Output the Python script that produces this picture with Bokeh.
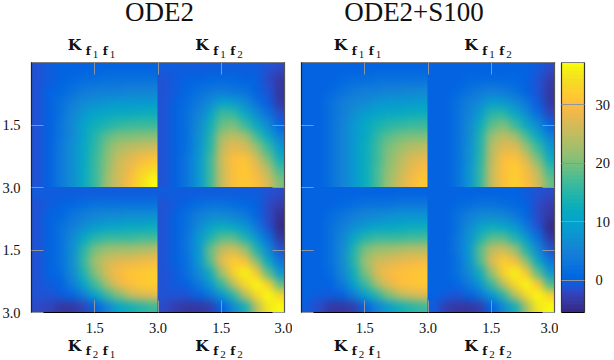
import numpy as np
from bokeh.embed import file_html
from bokeh.io import curdoc
from bokeh.resources import INLINE
from bokeh.layouts import row
from bokeh.models import CustomJS, FixedTicker, Label, LinearAxis, LinearColorMapper, Range1d
from bokeh.plotting import figure

# Values, top row of each panel first, 11 x 11 cells.
ode2_f1f1 = [
 [-1,-.5,0,0,.5,.5,.5,.5,.5,.5,.5],
 [-1,-.5,.5,1,1.5,1.5,2,2,2,2,2],
 [-1,0,1,2.5,3.5,4,4.5,4.5,5,5,5],
 [-1,0,2,4.5,6,7,7.5,8,8,8.5,8.5],
 [-1,0,2.5,5.5,8.5,10,11,11.5,11.5,12,12],
 [-1,0,3,6,10,13,14.5,15.5,16,16.5,16.5],
 [-1,.5,3,6.5,10.5,15,18.5,20,20.5,21,21],
 [-1,.5,3.5,7,11,15.5,20,23.5,25,25.5,26],
 [-1,.5,3.5,7,11,16,21,25.5,27.5,29.5,31],
 [-1,.5,3.5,7,11.5,16.5,21.5,26,29,32,34.5],
 [-1,.5,3.5,7,11.5,16.5,22,26.5,30.5,34,37],
]
ode2_f1f2 = [
 [-.5,-.5,-.5,-.5,-.5,-.5,-.5,-.5,-.5,-1,-2],
 [-1,-.5,0,.5,1,1,1,.5,0,-1.5,-3.5],
 [-1,-.5,1,2,3,3.5,3,2,.5,-1,-4],
 [-1,0,1.5,3.5,6.5,9.5,9,6,2.5,-.5,-3.5],
 [-1,0,2,5,9.5,16,15.5,11,6,2,-2],
 [-1,0,2,6,13,19,20,16,11,6,.5],
 [-1,0,2.5,7,14.5,23,25,23,17,11,4],
 [-1,0,2.5,7.5,15,25,28,27,22,16,8.5],
 [-1,0,3,8,16,26,30,31,27,20.5,13],
 [-1,0,3,8,16,25.5,30.5,31.5,29,24,17],
 [-1,0,3,8,16,25.5,30.5,31.5,30,27,20],
]
ode2_f2f1 = [
 [-.5,-.5,-.5,-.5,-.5,-.5,-.5,-.5,-.5,-.5,-.5],
 [-1,-.5,.5,1,1.5,2,2,2,2,2.5,2.5],
 [-1,0,1,3,4.5,5.5,6,6.5,7,7,7],
 [-1,0,2,4,7,9,10.5,11,11.5,11.5,12],
 [-1,.5,2.5,6,11,15,16,16.5,16.5,17,17],
 [-1,.5,2.5,7,15,20,22,23,23,23.5,24],
 [-1,0,2,7,16,23,26,27.5,28,29,29.5],
 [-1,0,1.5,6,14,21,27,29.5,31,31.5,32],
 [-1,-.5,.5,4,10,17,23,28,30.5,31.5,32],
 [-1,-1,-.5,1,4.5,10,16,20.5,25,27,28],
 [-1.5,-2.5,-3.5,-3.5,-2.5,.5,5,10,13,15,16],
]
ode2_f2f2 = [
 [-.5,-.5,-.5,-.5,-.5,-.5,-.5,-.5,-.5,-1,-1.5],
 [-1,-.5,.5,1.5,2,2,1.5,1,0,-1.5,-3],
 [-1,0,2,4,6,6,5,3.5,1,-2,-4.5],
 [-1,0,2.5,6,10,12,11,8,3.5,-1,-5],
 [-1,0,3,8,14,18,18,14,8,2,-4],
 [-1,0,3,8.5,19,25,27,22,14,6,-1],
 [-1,0,2.5,8,18,28,32,30,21,11,3],
 [-1,-.5,2,6.5,13,23,32,36,31,18,8],
 [-1,-.5,.5,3.5,8.5,16,25,33,37,32,18],
 [-1,-1,-1,0,3,8,15,24,33,38,33],
 [-1.5,-3,-4,-4,-3,0,6,13,24,35,38],
]
s100_f1f1 = [
 [0,0,.5,.5,.5,.5,.5,.5,.5,.5,.5],
 [0,.5,.5,1,1.5,1.5,2,2,2,2,2],
 [0,.5,1,2.5,3.5,4,4.5,5,5,5.5,5.5],
 [0,.5,2,4,5.5,6.5,7.5,8,8.5,8.5,9],
 [0,.5,2,4.5,7,9,10,11,11.5,12,12],
 [0,.5,2,5,8,11,13.5,15,15.5,16,16.5],
 [0,.5,2,5,8,11.5,15.5,18,19.5,20,20.5],
 [0,.5,2,5,8,12,16,20,22.5,24,25],
 [0,.5,2,5,8,12,16.5,21,24.5,27,28],
 [0,.5,2,5,8,12,17,21.5,25,28.5,30.5],
 [0,.5,2,5,8,12,17,22,26,29.5,31.5],
]
s100_f1f2 = [
 [0,0,0,0,0,0,0,0,0,-.5,-1.5],
 [0,.5,.5,1,1,1,1,1,0,-1,-3],
 [0,.5,1,2.5,3.5,4,3.5,2,.5,-1,-4],
 [0,.5,2,4,6.5,9,8.5,6,3,-.5,-4],
 [0,.5,2,5,9,15,15,11,6,1.5,-2.5],
 [0,.5,2.5,6,12,18,20,16,11,6,.5],
 [0,.5,2.5,6.5,14,22,25,23,17,11,4],
 [0,.5,2.5,7,14.5,24,27.5,27.5,22,16,8],
 [0,.5,2.5,7,15,25,30,31,27,20,12],
 [0,.5,2.5,7.5,15.5,25.5,30.5,32,29.5,24,16.5],
 [0,.5,2.5,7.5,15.5,25.5,30.5,32,30.5,26,19],
]
s100_f2f1 = [
 [0,0,0,0,0,0,0,0,0,0,0],
 [0,0,.5,1,1.5,2,2.5,2.5,3,3,3],
 [0,.5,1.5,3,4.5,5.5,6.5,7,7.5,7.5,7.5],
 [0,.5,2,4.5,7,9,10.5,11,11.5,12,12],
 [0,.5,2.5,5.5,11,15,16,16.5,16.5,17,17],
 [0,.5,2.5,6.5,14,20,22,23,23.5,24,24.5],
 [0,.5,2,6.5,15,22.5,26,27,28,29,29.5],
 [0,.5,1.5,5.5,13,20.5,27,29.5,30.5,31,31.5],
 [0,0,.5,3.5,9.5,16.5,23,27.5,30,31,31.5],
 [0,-.5,-.5,.5,4,9.5,15,20,24,26.5,27.5],
 [-.5,-2,-3.5,-4,-3,.5,5,9,13,15,16],
]
s100_f2f2 = [
 [0,0,0,0,0,0,0,0,-.5,-1,-1.5],
 [0,.5,1,1.5,2,2,1.5,1,0,-1.5,-3],
 [0,.5,2,4,6,6.5,5.5,3.5,1,-2,-4],
 [0,.5,2.5,6,10,12,11,8,3.5,-1,-5],
 [0,.5,3,7.5,14,18.5,18,14,8,2,-4],
 [0,.5,3,8,18,25,26.5,22,14,6,-1],
 [0,.5,2.5,7.5,17.5,27.5,32,29.5,21,11,3],
 [0,.5,2,6,13,22.5,32,36,31,18,8],
 [0,0,1,3.5,8.5,16,25,33,37,31,17],
 [0,-.5,-1,0,3,8,15,24,33,38,32],
 [-.5,-3,-4,-4,-3,0,6,13,23,35,38],
]
titles = ["ODE2", "ODE2+S100"]
axis_ticks = [1.5, 3.0, 4.5, 6.0]
axis_labels = ["1.5", "3.0", "1.5", "3.0"]
x_labels = {t: s for t, s in zip(axis_ticks, axis_labels)}
y_labels = {0.0: "3.0", 1.5: "1.5", 3.0: "3.0", 4.5: "1.5"}
cbar_ticks = [0, 10, 20, 30]
cbar_low, cbar_high = -5.5, 37.2

parula = [(.2081,.1663,.5292),(.2116,.1898,.5777),(.2123,.2138,.6270),(.2081,.2386,.6771),
 (.1959,.2645,.7279),(.1707,.2919,.7792),(.1253,.3242,.8303),(.0591,.3598,.8683),
 (.0117,.3875,.8820),(.0060,.4086,.8828),(.0165,.4266,.8786),(.0329,.4430,.8720),
 (.0498,.4586,.8641),(.0629,.4737,.8554),(.0723,.4887,.8467),(.0779,.5040,.8384),
 (.0793,.5200,.8312),(.0749,.5375,.8263),(.0641,.5570,.8240),(.0488,.5772,.8228),
 (.0343,.5966,.8199),(.0265,.6137,.8135),(.0239,.6287,.8038),(.0231,.6418,.7913),
 (.0228,.6535,.7768),(.0267,.6642,.7607),(.0384,.6743,.7436),(.0590,.6838,.7254),
 (.0843,.6928,.7062),(.1133,.7015,.6859),(.1453,.7098,.6646),(.1801,.7177,.6424),
 (.2178,.7250,.6193),(.2586,.7317,.5954),(.3022,.7376,.5712),(.3482,.7424,.5473),
 (.3953,.7459,.5244),(.4420,.7481,.5033),(.4871,.7491,.4840),(.5300,.7491,.4661),
 (.5709,.7485,.4494),(.6099,.7473,.4337),(.6473,.7456,.4188),(.6834,.7435,.4044),
 (.7184,.7411,.3905),(.7525,.7384,.3768),(.7858,.7356,.3633),(.8185,.7327,.3498),
 (.8507,.7299,.3360),(.8824,.7274,.3217),(.9139,.7258,.3063),(.9450,.7261,.2886),
 (.9739,.7314,.2666),(.9938,.7455,.2403),(.9990,.7653,.2164),(.9955,.7861,.1967),
 (.9880,.8066,.1794),(.9789,.8271,.1633),(.9697,.8481,.1475),(.9626,.8705,.1309),
 (.9589,.8949,.1132),(.9598,.9218,.0948),(.9661,.9514,.0755),(.9763,.9831,.0538)]
palette = ["#%02x%02x%02x" % tuple(int(round(c * 255)) for c in rgb) for rgb in parula]
mapper = LinearColorMapper(palette=palette, low=cbar_low, high=cbar_high)

TICK = "#8f959c"
SERIF = "Liberation Serif"
HEAVY = "DejaVu Serif"
FRAME_W, FRAME_H = 253, 250
UX, UY = 6 / FRAME_W, 6 / FRAME_H
PAD = 3 / 11      # one repeated cell round each panel, trimmed again by the clip below


def note(p, x, y, dx, dy, text, size, font=SERIF, style="normal", align="left"):
    p.add_layout(Label(x=x, y=y, x_offset=dx, y_offset=dy + 0.43 * size, text=text, text_font=font,
                       text_font_size=f"{size}px", text_font_style=style, text_align=align,
                       text_baseline="alphabetic", text_color="#111111"))


def kernel(p, x, y, dx, dy, a, b, f_dy, d_dy):
    note(p, x, y, dx, dy, "K", 15.5, HEAVY, "bold")
    note(p, x, y, dx + 18, dy + f_dy, "f", 11.5, HEAVY, "bold")
    note(p, x, y, dx + 25, dy + d_dy, a, 11)
    note(p, x, y, dx + 35, dy + f_dy, "f", 11.5, HEAVY, "bold")
    note(p, x, y, dx + 42, dy + d_dy, b, 11)


def group(panels, width, left, title, title_x, offsets, y_text):
    right = width - left - FRAME_W
    p = figure(width=width, height=360,
               x_range=Range1d(-left * UX, 6 + right * UX), y_range=Range1d(-48 * UY, 6 + 62 * UY),
               min_border=0, x_axis_location=None, y_axis_location=None,
               toolbar_location=None, output_backend="svg", tools="")
    p.grid.visible = False
    p.outline_line_color = None
    for (x0, y0), cells in panels:
        padded = np.pad(np.array(cells, dtype=float)[::-1], 1, mode="edge")
        p.image(image=[padded], x=x0 - PAD, y=y0 - PAD, dw=3 + 2 * PAD, dh=3 + 2 * PAD, color_mapper=mapper)
    for side, where, ticks, overrides, line, show in [
        ("below", 0, axis_ticks, x_labels, "black", True),
        ("above", 6, axis_ticks[:3], {}, "#7f7f7f", False),
        ("left", 0, list(y_labels), y_labels, "#222222", y_text),
        ("right", 6, list(y_labels), {}, "#555555", False),
    ]:
        ax = LinearAxis(ticker=FixedTicker(ticks=ticks), major_label_overrides=overrides, fixed_location=where,
                        bounds=(0, 6), major_tick_in=12, major_tick_out=0, minor_tick_line_color=None,
                        major_tick_line_color=TICK, major_tick_line_width=1,
                        axis_line_color=line, axis_line_width=1.2,
                        major_label_standoff=11 if side == "left" else 10,
                        major_label_text_font=SERIF, major_label_text_font_size="14.5px",
                        major_label_text_color="#111111" if show else None)
        p.add_layout(ax, side)
    note(p, title_x, 6, 0, 38.6, title, 27, align="center")
    kernel(p, 1.5, 6, offsets[0], 11.3, "1", "1", -4.3, -8)
    kernel(p, 4.5, 6, offsets[1], 11.3, "1", "2", -4.3, -8)
    kernel(p, 1.5, 0, offsets[2], -39.7, "2", "1", -3.5, -7)
    kernel(p, 4.5, 0, offsets[3], -39.7, "2", "2", -3.5, -7)
    return p


p1 = group([((0, 3), ode2_f1f1), ((3, 3), ode2_f1f2), ((0, 0), ode2_f2f1), ((3, 0), ode2_f2f2)],
           292, 31, titles[0], 3.035, (-27, -26, -27, -26), True)
p2 = group([((0, 3), s100_f1f1), ((3, 3), s100_f1f2), ((0, 0), s100_f2f1), ((3, 0), s100_f2f2)],
           266, 9, titles[1], 2.668, (-31, -27, -31, -27), False)

UB = (cbar_high - cbar_low) / FRAME_H
bar = figure(width=56, height=360, x_range=Range1d(-3 / 23, 1 + 30 / 23),
             y_range=Range1d(cbar_low - 48 * UB, cbar_high + 62 * UB),
             min_border=0, x_axis_location=None, y_axis_location=None, toolbar_location=None,
             output_backend="svg", tools="")
bar.grid.visible = False
bar.outline_line_color = None
levels = np.linspace(cbar_low, cbar_high, len(palette)).reshape(-1, 1)
bar.image(image=[levels], x=0, y=cbar_low, dw=1, dh=cbar_high - cbar_low, color_mapper=mapper)
bar_axis = LinearAxis(ticker=FixedTicker(ticks=cbar_ticks), fixed_location=1, major_tick_in=23, major_tick_out=0,
                      minor_tick_line_color=None, major_tick_line_color=TICK, bounds=(cbar_low, cbar_high),
                      axis_line_color="#333333", axis_line_width=1.2, major_label_standoff=11,
                      major_label_text_font=SERIF, major_label_text_font_size="14.5px",
                      major_label_text_color="#111111")
bar.add_layout(bar_axis, "right")
bar.add_layout(LinearAxis(fixed_location=0, ticker=FixedTicker(ticks=[]), bounds=(cbar_low, cbar_high),
                          axis_line_color="#333333", axis_line_width=1.2,
                          major_label_text_color=None), "left")
for side, where, col in (("below", cbar_low, "black"), ("above", cbar_high, "#7f7f7f")):
    bar.add_layout(LinearAxis(fixed_location=where, ticker=FixedTicker(ticks=[]), bounds=(0, 1),
                              axis_line_color=col, axis_line_width=1.2, major_label_text_color=None), side)

soften = CustomJS(code="""
const walk = (root) => {
  root.querySelectorAll('*').forEach((e) => {
    if (e.tagName === 'image' && parseFloat(e.getAttribute('width')) > 100) {
      e.style.filter = 'blur(4px)';
      e.style.clipPath = 'inset(7.35%)';
    }
    if (e.shadowRoot) walk(e.shadowRoot);
  });
};
[0, 50, 200, 600, 1200].forEach((t) => setTimeout(() => walk(document), t));
""")
root = row(p1, p2, bar, spacing=0)
doc = curdoc()
doc.add_root(root)
doc.js_on_event("document_ready", soften)
open("out.html", "w").write(file_html(root, INLINE))
